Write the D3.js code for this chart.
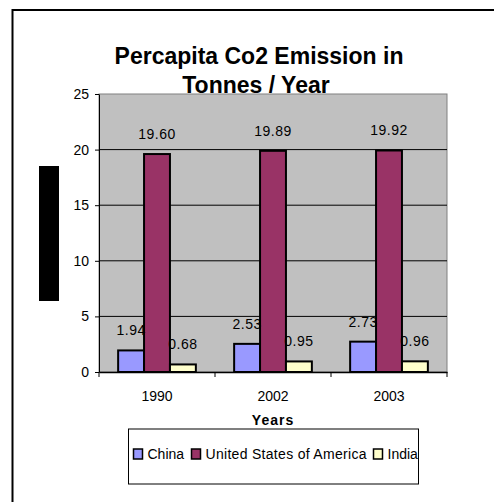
<!DOCTYPE html>
<html>
<head>
<meta charset="utf-8">
<script src="https://cdn.jsdelivr.net/npm/d3@7"></script>
<style>
  html, body { margin:0; background:#fff; overflow:hidden; }
  svg { display:block; font-family:"Liberation Sans", Arial, sans-serif; }
  .axis path, .axis line { stroke:#000; }
  .axis text { font-size:14px; fill:#000; }
</style>
</head>
<body>
<div id="canvas"></div>
<script>
// ---- ---- DATA ---- ----
var years = ['1990', '2002', '2003'];
var countries = ['China', 'United States of America', 'India'];
var china = [1.94, 2.53, 2.73];
var usa = [19.60, 19.89, 19.92];
var india = [0.68, 0.95, 0.96];
var yTicks = [0, 5, 10, 15, 20, 25];
var colors = ['#9999ff', '#993366', '#ffffcc'];

var series = [china, usa, india];

// ---- ---- MARGIN CONVENTION ---- ----
var W = 494, H = 502;
var m = {t:94, r:47, b:130, l:99};
var w = W - m.l - m.r,
    h = H - m.t - m.b;

var svg = d3.select('#canvas')
    .append('svg')
    .attr('width', W)
    .attr('height', H);

// outer frame (only top and left edges fall inside the picture)
svg.append('path')
    .attr('d', 'M12.5,' + H + 'V10H' + W)
    .attr('fill', 'none')
    .attr('stroke', '#000')
    .attr('stroke-width', 2);

var plot = svg.append('g')
    .attr('transform', 'translate(' + m.l + ',' + m.t + ')');

// ---- ---- SCALES ---- ----
var scaleY = d3.scaleLinear()
    .domain([0, 25])
    .range([h, 0]);

var scaleX = d3.scaleBand()
    .domain(years)
    .range([0, w])
    .paddingInner(0.33)
    .paddingOuter(0.165);

var groupW = w / years.length;
var scaleSub = d3.scaleBand()
    .domain(d3.range(countries.length))
    .range([0, scaleX.bandwidth()]);

// ---- ---- PLOT BACKGROUND ---- ----
plot.append('rect')
    .attr('width', w).attr('height', h)
    .attr('fill', '#c0c0c0')
    .attr('stroke', '#808080')
    .attr('stroke-width', 1);

// gridlines
plot.selectAll('.grid')
    .data(yTicks.filter(function(d){ return d > 0 && d < 25; }))
    .enter()
    .append('line')
    .attr('class', 'grid')
    .attr('x1', 0).attr('x2', w)
    .attr('y1', function(d){ return scaleY(d); })
    .attr('y2', function(d){ return scaleY(d); })
    .attr('stroke', '#000')
    .attr('stroke-width', 1);

// ---- ---- BARS ---- ----
var groups = plot.selectAll('.year')
    .data(years)
    .enter()
    .append('g')
    .attr('class', 'year')
    .attr('transform', function(d){ return 'translate(' + scaleX(d) + ',0)'; });

groups.selectAll('rect')
    .data(function(d, i){ return series.map(function(s, k){ return {k:k, v:s[i]}; }); })
    .enter()
    .append('rect')
    .attr('x', function(d){ return scaleSub(d.k); })
    .attr('y', function(d){ return scaleY(d.v); })
    .attr('width', scaleSub.bandwidth())
    .attr('height', function(d){ return h - scaleY(d.v); })
    .attr('fill', function(d){ return colors[d.k]; })
    .attr('stroke', '#000')
    .attr('stroke-width', 2);

groups.selectAll('.val')
    .data(function(d, i){ return series.map(function(s, k){ return {k:k, v:s[i]}; }); })
    .enter()
    .append('text')
    .attr('class', 'val')
    .attr('x', function(d){ return scaleSub(d.k) + scaleSub.bandwidth() / 2; })
    .attr('y', function(d){ return scaleY(d.v) - 15; })
    .attr('text-anchor', 'middle')
    .style('font-size', '14px')
    .style('letter-spacing', '0.5px')
    .text(function(d){ return d.v.toFixed(2); });

// ---- ---- AXES ---- ----
var axisY = d3.axisLeft(scaleY)
    .tickValues(yTicks)
    .tickSize(4)
    .tickPadding(6)
    .tickSizeOuter(0);

var axisX = d3.axisBottom(scaleX)
    .tickSize(0)
    .tickPadding(19);

plot.append('g').attr('class', 'axis axis-y').call(axisY);

var gx = plot.append('g').attr('class', 'axis axis-x')
    .attr('transform', 'translate(0,' + h + ')')
    .call(axisX);
gx.select('.domain').attr('stroke-width', 1.5);

// category boundary ticks
gx.selectAll('.bound')
    .data(d3.range(years.length + 1))
    .enter()
    .append('line')
    .attr('x1', function(d){ return d * groupW; })
    .attr('x2', function(d){ return d * groupW; })
    .attr('y1', 0).attr('y2', 5)
    .attr('stroke', '#000');

// ---- ---- TITLES ---- ----
svg.append('text')
    .attr('x', 259).attr('y', 64)
    .attr('text-anchor', 'middle')
    .style('font-size', '23px').style('font-weight', 'bold')
    .text('Percapita Co2 Emission in');
svg.append('text')
    .attr('x', 256).attr('y', 93)
    .attr('text-anchor', 'middle')
    .style('font-size', '23px').style('font-weight', 'bold')
    .text('Tonnes / Year');

svg.append('text')
    .attr('x', m.l + w / 2).attr('y', m.t + h + 53)
    .attr('text-anchor', 'middle')
    .style('font-size', '14px').style('font-weight', 'bold')
    .style('letter-spacing', '1px')
    .text('Years');

// y-axis title block (rendered as a solid black box)
svg.append('rect')
    .attr('x', 39).attr('y', 166)
    .attr('width', 20).attr('height', 135)
    .attr('fill', '#000');

// ---- ---- LEGEND ---- ----
var legend = svg.append('g')
    .attr('transform', 'translate(128.5,429)');

legend.append('rect')
    .attr('width', 290).attr('height', 55)
    .attr('fill', '#fff')
    .attr('stroke', '#000');

var clip = svg.append('clipPath').attr('id', 'lg');
clip.append('rect').attr('width', 290).attr('height', 55);

var legendX = [5, 63, 245];
var items = legend.append('g').attr('clip-path', 'url(#lg)')
    .selectAll('.item')
    .data(countries)
    .enter()
    .append('g')
    .attr('class', 'item')
    .attr('transform', function(d, i){ return 'translate(' + legendX[i] + ',20)'; });

items.append('rect')
    .attr('width', 9).attr('height', 10)
    .attr('fill', function(d, i){ return colors[i]; })
    .attr('stroke', '#000')
    .attr('stroke-width', 1.5);

items.append('text')
    .attr('x', 14).attr('y', 10)
    .style('font-size', '14px')
    .style('letter-spacing', function(d, i){ return i === 1 ? '0.3px' : '0px'; })
    .text(function(d){ return d; });
</script>
</body>
</html>
